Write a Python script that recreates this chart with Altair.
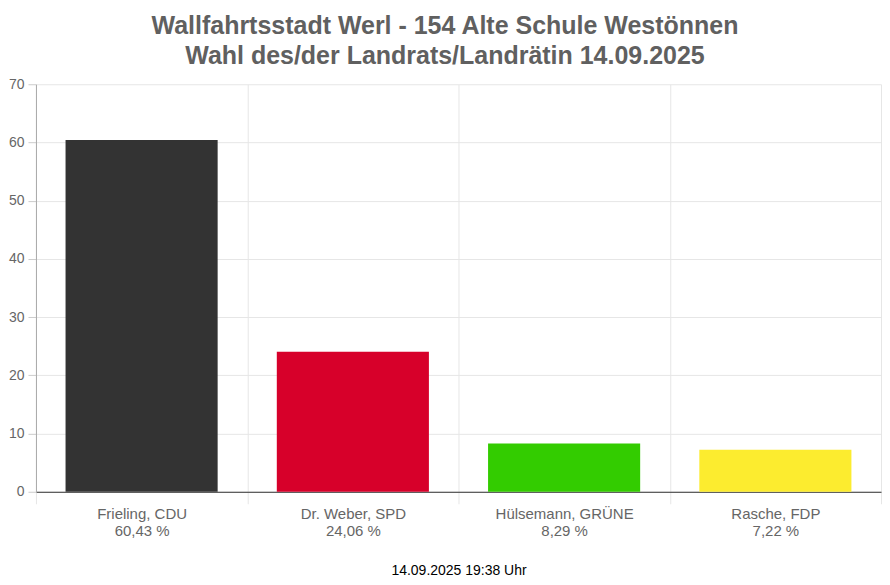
import altair as alt
import pandas as pd

candidates = ["Frieling, CDU", "Dr. Weber, SPD", "Hülsemann, GRÜNE", "Rasche, FDP"]
shares = [60.43, 24.06, 8.29, 7.22]
colors = ["#333333", "#d7002a", "#33cc00", "#fcec2f"]
y_ticks = [0, 10, 20, 30, 40, 50, 60, 70]
footer = "14.09.2025 19:38 Uhr"
title_lines = ["Wallfahrtsstadt Werl - 154 Alte Schule Westönnen",
               "Wahl des/der Landrats/Landrätin 14.09.2025"]

labels = [c + "\n" + f"{v:.2f}".replace(".", ",") + " %" for c, v in zip(candidates, shares)]
df = pd.DataFrame({"label": labels, "share": shares, "color": colors})

FONT = "Liberation Sans"

chart = alt.Chart(df).mark_bar(width=alt.RelativeBandSize(0.72)).encode(
    x=alt.X("label:N", sort=labels,
            scale=alt.Scale(paddingInner=0, paddingOuter=0),
            axis=alt.Axis(title=footer, titleFont=FONT, titleFontSize=14,
                          titleColor="#000000", titleFontWeight="normal",
                          titlePadding=25,
                          labelAngle=0, labelFont=FONT, labelFontSize=15,
                          labelColor="#666666", labelPadding=3,
                          labelExpr="split(datum.label, '\\n')",
                          labelLineHeight=17,
                          tickBand="extent", grid=True, gridColor="#e6e6e6",
                          ticks=True, tickSize=12, tickColor="#e6e6e6",
                          domainColor="#333333", domainWidth=1)),
    y=alt.Y("share:Q", scale=alt.Scale(domain=[0, 70]),
            axis=alt.Axis(title=None, values=y_ticks, labelFont=FONT,
                          labelFontSize=14, labelColor="#666666",
                          labelPadding=4, tickSize=8, tickColor="#cccccc",
                          gridColor="#e6e6e6", domainColor="#aaaaaa")),
    color=alt.Color("color:N", scale=None, legend=None),
).properties(
    width=846, height=408,
    padding={"left": 0, "top": 6, "right": 0, "bottom": 0},
    title=alt.TitleParams(title_lines, font=FONT, fontSize=25,
                          fontWeight="bold", color="#606060",
                          lineHeight=30, offset=8, anchor="middle",
                          frame="bounds"),
).configure_view(stroke=None)

chart.save("out.html", embed_options={"renderer": "svg", "actions": False})
